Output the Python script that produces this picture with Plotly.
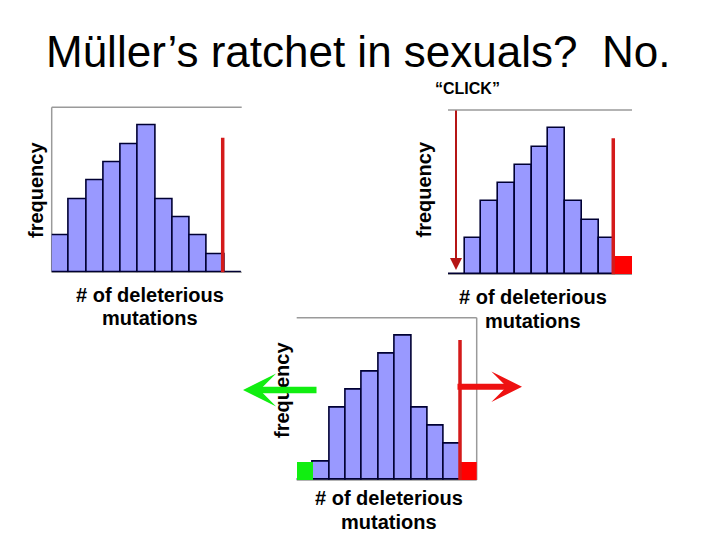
import plotly.graph_objects as go

# ---------------- data ----------------
slots = list(range(11))
p1_blue = [2, 4, 5, 6, 7, 8, 4, 3, 2, 1, 0]
p2_blue = [0, 2, 4, 5, 6, 7, 8, 4, 3, 2, 0]
p2_red_x = [10]
p2_red_y = [1]
p3_blue = [0, 1, 4, 5, 6, 7, 8, 4, 3, 2, 0]
p3_green_x = [0]
p3_green_y = [1]
p3_red_x = [10]
p3_red_y = [1]
ratchet_x = [9.4, 9.38, 9.48]        # red threshold line per panel
ratchet_top = [7.34, 7.45, 7.76]

title = "Müller’s ratchet in sexuals?\u00a0\u00a0No."
xlabel1 = "# of deleterious"
xlabel2 = "mutations"
ylabel = "frequency"

W, H = 720, 540
BLUE = "#9999ff"
EDGE = "#000033"
RED = "#ff0000"
LINE_RED = "#d41a1a"
GREEN = "#11ee11"
GRAY = "#9a9a9a"
FONT = "Liberation Sans, Arial, sans-serif"

def px(x):
    return x / W

def py(y):
    return 1 - y / H

# panel boxes in pixels (left, right, top, bottom)
panels = [
    (51.7, 241.7, 107.3, 272.3),
    (448.0, 632.0, 110.0, 274.3),
    (296.7, 476.7, 317.7, 480.0),
]

fig = go.Figure()

def bar(x, y, color, lw, lc, ax):
    fig.add_trace(go.Bar(x=x, y=y, width=1.0, marker=dict(color=color, line=dict(color=lc, width=lw)),
                         xaxis="x" + ax, yaxis="y" + ax, showlegend=False, hoverinfo="skip"))

bar(slots, p1_blue, BLUE, 1.6, EDGE, "")
bar(slots, p2_blue, BLUE, 1.6, EDGE, "2")
bar(p2_red_x, p2_red_y, RED, 0, RED, "2")
bar(slots, p3_blue, BLUE, 1.6, EDGE, "3")
bar(p3_green_x, p3_green_y, GREEN, 0, GREEN, "3")
bar(p3_red_x, p3_red_y, RED, 0, RED, "3")

layout = dict(
    width=W, height=H, margin=dict(l=0, r=0, t=0, b=0),
    paper_bgcolor="white", plot_bgcolor="rgba(0,0,0,0)",
    barmode="overlay", bargap=0, showlegend=False,
    font=dict(family=FONT, color="black"),
)
names = ["", "2", "3"]
for i, (l, r, t, b) in enumerate(panels):
    layout["xaxis" + names[i]] = dict(domain=[px(l), px(r)], range=[-0.5, 10.5], visible=False,
                                      anchor="y" + names[i], fixedrange=True)
    layout["yaxis" + names[i]] = dict(domain=[py(b), py(t)], range=[0, 9], visible=False,
                                      anchor="x" + names[i], fixedrange=True)
fig.update_layout(**layout)

shapes = []
for i, (l, r, t, b) in enumerate(panels):
    xr = "x" + names[i] + " domain"
    yr = "y" + names[i] + " domain"
    shapes.append(dict(type="line", xref=xr, yref=yr, x0=0, x1=1, y0=1, y1=1,
                       line=dict(color=GRAY, width=1.5), layer="below"))
    shapes.append(dict(type="line", xref=xr, yref=yr, x0=0, x1=1, y0=0, y1=0,
                       line=dict(color=GRAY, width=1.5), layer="below"))
# side borders
shapes.append(dict(type="line", xref="x domain", yref="y domain", x0=0, x1=0, y0=0, y1=1,
                   line=dict(color=GRAY, width=1.5), layer="below"))
shapes.append(dict(type="line", xref="x3 domain", yref="y3 domain", x0=1, x1=1, y0=0, y1=1,
                   line=dict(color=GRAY, width=1.5), layer="below"))
# red ratchet lines
for i in range(3):
    shapes.append(dict(type="line", xref="x" + names[i], yref="y" + names[i],
                       x0=ratchet_x[i], x1=ratchet_x[i], y0=-0.25, y1=ratchet_top[i],
                       line=dict(color=LINE_RED, width=3.5)))
fig.update_layout(shapes=shapes)

ann = []
ann.append(dict(text=title, x=px(358), y=py(51), xref="paper", yref="paper", showarrow=False,
                xanchor="center", yanchor="middle", font=dict(size=44, family=FONT)))
ann.append(dict(text="“CLICK”", x=px(467), y=py(89), xref="paper", yref="paper", showarrow=False,
                xanchor="center", yanchor="middle", font=dict(size=16, family=FONT, weight="bold")))
for cx, y1, y2 in [(150, 295, 318), (533, 297, 321), (389, 498, 522)]:
    ann.append(dict(text=xlabel1, x=px(cx), y=py(y1), xref="paper", yref="paper", showarrow=False,
                    xanchor="center", yanchor="middle", font=dict(size=20, family=FONT, weight="bold")))
    ann.append(dict(text=xlabel2, x=px(cx), y=py(y2), xref="paper", yref="paper", showarrow=False,
                    xanchor="center", yanchor="middle", font=dict(size=20, family=FONT, weight="bold")))
for cx, cy in [(36, 190), (423.5, 190), (282, 390)]:
    ann.append(dict(text=ylabel, x=px(cx), y=py(cy), xref="paper", yref="paper", showarrow=False,
                    textangle=-90, xanchor="center", yanchor="middle",
                    font=dict(size=20, family=FONT, weight="bold")))
# arrows
ann.append(dict(text="", x=px(456), y=py(270), xref="paper", yref="paper", ax=0, ay=-161,
                showarrow=True, arrowhead=2, arrowsize=1.2, arrowwidth=2, arrowcolor="#b51515"))
ann.append(dict(text="", x=px(522), y=py(386.7), xref="paper", yref="paper", ax=-66, ay=0,
                showarrow=True, arrowhead=3, arrowsize=0.85, arrowwidth=6, arrowcolor="#ee1111"))
ann.append(dict(text="", x=px(243), y=py(390), xref="paper", yref="paper", ax=75, ay=0,
                showarrow=True, arrowhead=3, arrowsize=0.85, arrowwidth=6.5, arrowcolor=GREEN))
fig.update_layout(annotations=ann)

fig.write_html("out.html", config={"displayModeBar": False},
               post_script="document.body.style.margin='0px';document.body.style.padding='0px';")
